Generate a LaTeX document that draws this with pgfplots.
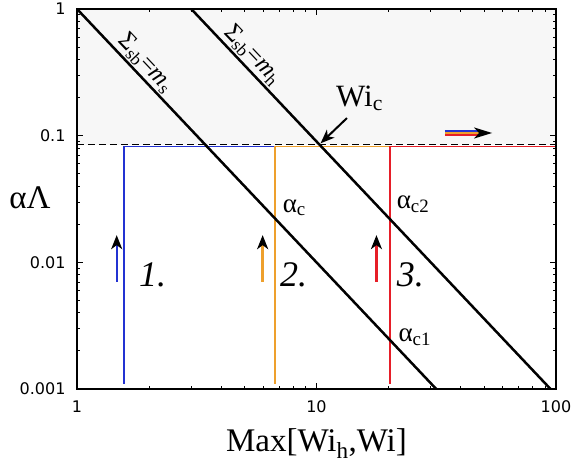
\documentclass[border=0pt]{standalone}
\usepackage{fontspec}
\setmainfont{Liberation Serif}
\newfontfamily\ticksf{DejaVu Sans}
\usepackage{pgfplots}
\pgfplotsset{compat=1.18}
\usetikzlibrary{arrows.meta}
\definecolor{cblue}{RGB}{35,50,210}
\definecolor{corange}{RGB}{238,160,45}
\definecolor{cred}{RGB}{230,30,40}
\definecolor{shade}{RGB}{247,247,247}
\tikzset{ahead/.style={-{Stealth[length=14pt,width=11pt,inset=4pt,black]}}}
\begin{document}
\begin{tikzpicture}
\begin{axis}[
  xmode=log, ymode=log,
  scale only axis, width=479pt, height=380pt,
  xmin=1, xmax=100, ymin=0.001, ymax=1,
  axis on top,
  tick align=inside, tick pos=both,
  major tick length=6pt, minor tick length=3pt,
  every tick/.style={black, line width=0.8pt},
  axis line style={line width=1.6pt},
  xtick={1,10,100}, xticklabels={1,10,100},
  minor xtick={2,3,4,5,6,7,8,9,20,30,40,50,60,70,80,90},
  ytick={0.001,0.01,0.1,1}, yticklabels={0.001,0.01,0.1,1},
  minor ytick={0.002,0.003,0.004,0.005,0.006,0.007,0.008,0.009,0.02,0.03,0.04,0.05,0.06,0.07,0.08,0.09,0.2,0.3,0.4,0.5,0.6,0.7,0.8,0.9},
  tick label style={font=\ticksf\fontsize{16}{16}\selectfont},
  yticklabel style={xshift=-8pt},
  xticklabel style={yshift=-8pt},
  xlabel={Max[Wi\textsubscript{h},Wi]},
  xlabel style={font=\fontsize{33}{33}\selectfont, at={(axis description cs:0.5,0)}, anchor=base, yshift=-62pt},
  ylabel={αΛ},
  ylabel style={font=\fontsize{33}{33}\selectfont, rotate=-90, at={(axis description cs:-0.098,0.474)}, anchor=base},
]
% shaded region
\addplot[fill=shade, draw=none] coordinates {(1,0.085) (100,0.085) (100,1) (1,1)} --cycle;
% dashed threshold
\addplot[black, line width=1.4pt, dash pattern=on 7pt off 4pt] coordinates {(1,0.085) (100,0.085)};
% coloured paths
\addplot[cblue, line width=1.8pt] coordinates {(1.567,0.0011) (1.567,0.082) (6.71,0.082)};
\addplot[corange, line width=1.8pt] coordinates {(6.71,0.0011) (6.71,0.082) (20.3,0.082)};
\addplot[cred, line width=1.8pt] coordinates {(20.3,0.0011) (20.3,0.082) (100,0.082)};
% diagonal lines
\addplot[black, line width=2.5pt] coordinates {(1,1) (31.62,0.001)};
\addplot[black, line width=2.5pt] coordinates {(3,1) (94.87,0.001)};
% vertical arrows
\addplot[cblue, line width=2.4pt, ahead] coordinates {(1.465,0.0070) (1.465,0.0164)};
\addplot[corange, line width=2.4pt, ahead] coordinates {(5.96,0.0070) (5.96,0.0164)};
\addplot[cred, line width=2.4pt, ahead] coordinates {(17.8,0.0070) (17.8,0.0164)};
% tricolour arrow
\addplot[cblue, line width=2pt] coordinates {(34.4,0.109) (47.2,0.109)};
\addplot[cred, line width=2pt] coordinates {(34.4,0.101) (47.2,0.101)};
\addplot[corange, line width=2pt, -{Stealth[length=18pt,width=11pt,inset=5pt,black]}] coordinates {(34.4,0.105) (54.1,0.105)};
% Wi_c arrow
\addplot[black, line width=2pt, ahead] coordinates {(13.4,0.1377) (10.4,0.087)};
% labels
\node[anchor=base west, inner sep=0, font=\fontsize{31}{31}\selectfont] at (axis cs:12.06,0.169) {Wi\textsubscript{c}};
\node[anchor=base west, inner sep=0, font=\fontsize{27}{27}\selectfont] at (axis cs:7.22,0.0249) {α\textsubscript{c}};
\node[anchor=base west, inner sep=0, font=\fontsize{27}{27}\selectfont] at (axis cs:21.6,0.0268) {α\textsubscript{c2}};
\node[anchor=base west, inner sep=0, font=\fontsize{27}{27}\selectfont] at (axis cs:21.96,0.00236) {α\textsubscript{c1}};
\node[anchor=base west, inner sep=0, font=\fontsize{36}{36}\selectfont\itshape] at (axis cs:1.815,0.00641) {1.};
\node[anchor=base west, inner sep=0, font=\fontsize{36}{36}\selectfont\itshape] at (axis cs:7.04,0.00641) {2.};
\node[anchor=base west, inner sep=0, font=\fontsize{36}{36}\selectfont\itshape] at (axis cs:21.6,0.00641) {3.};
\node[rotate=-46.6, anchor=south, inner sep=2.5pt, font=\fontsize{25}{25}\selectfont] at (axis cs:1.772,0.3185) {Σ\textsubscript{sb}=\textit{m}\textsubscript{s}};
\node[rotate=-46.6, anchor=south, inner sep=2.5pt, font=\fontsize{25}{25}\selectfont] at (axis cs:4.95,0.367) {Σ\textsubscript{sb}=\textit{m}\textsubscript{h}};
\end{axis}
\pgfresetboundingbox
\path ([shift={(-77pt,-73pt)}]current axis.south west) rectangle ([shift={(19pt,9pt)}]current axis.north east);
\end{tikzpicture}
\end{document}
